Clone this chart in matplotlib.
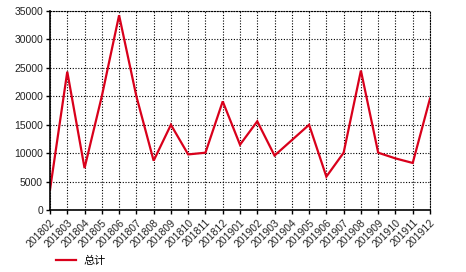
import matplotlib
matplotlib.use("Agg")
import matplotlib.pyplot as plt

months = ["201802", "201803", "201804", "201805", "201806", "201807", "201808",
          "201809", "201810", "201811", "201812", "201901", "201902", "201903",
          "201904", "201905", "201906", "201907", "201908", "201909", "201910",
          "201911", "201912"]
totals = [3600, 24300, 7400, 20000, 34200, 20000, 8700, 15000, 9800, 10100,
          19100, 11500, 15600, 9600, 12300, 15000, 5900, 10100, 24500, 10100,
          9100, 8300, 19600]
series_name = "总计"
y_ticks = [0, 5000, 10000, 15000, 20000, 25000, 30000, 35000]

plt.rcParams['font.family'] = ['Liberation Sans', 'Noto Sans CJK SC', 'DejaVu Sans']

fig = plt.figure(figsize=(4.66, 2.72), dpi=100)
ax = fig.add_axes([50/466, 1-210.3/272, 380/466, (210.3-10.7)/272])

x = list(range(len(months)))
line, = ax.plot(x, totals, color='#d9001b', lw=1.6, solid_joinstyle='miter')

ax.set_xlim(0, len(months)-1)
ax.set_ylim(0, 35000)
ax.set_xticks(x)
ax.set_xticklabels(months, rotation=45, ha='right', rotation_mode='anchor', fontsize=7.5, color='#222222')
ax.set_yticks(y_ticks)
ax.set_yticklabels([str(v) for v in y_ticks], fontsize=7.5, color='#222222')
ax.tick_params(axis='both', direction='out', length=3, width=1, colors='black', pad=2)
for lab in ax.get_xticklabels() + ax.get_yticklabels():
    lab.set_color('#222222')

ax.grid(True, color='black', linestyle=(0, (1, 1.5)), linewidth=0.8)
ax.set_axisbelow(True)
for side in ['top', 'right']:
    ax.spines[side].set_linestyle((0, (1, 1.5)))
    ax.spines[side].set_linewidth(0.8)
for side in ['left', 'bottom']:
    ax.spines[side].set_linewidth(1.2)

fig.legend([line], [series_name], loc='center left', bbox_to_anchor=(52/466, 1-261/272),
           frameon=False, fontsize=8, handlelength=1.8, handletextpad=0.6, borderaxespad=0)

fig.savefig("out.png", dpi=100)
